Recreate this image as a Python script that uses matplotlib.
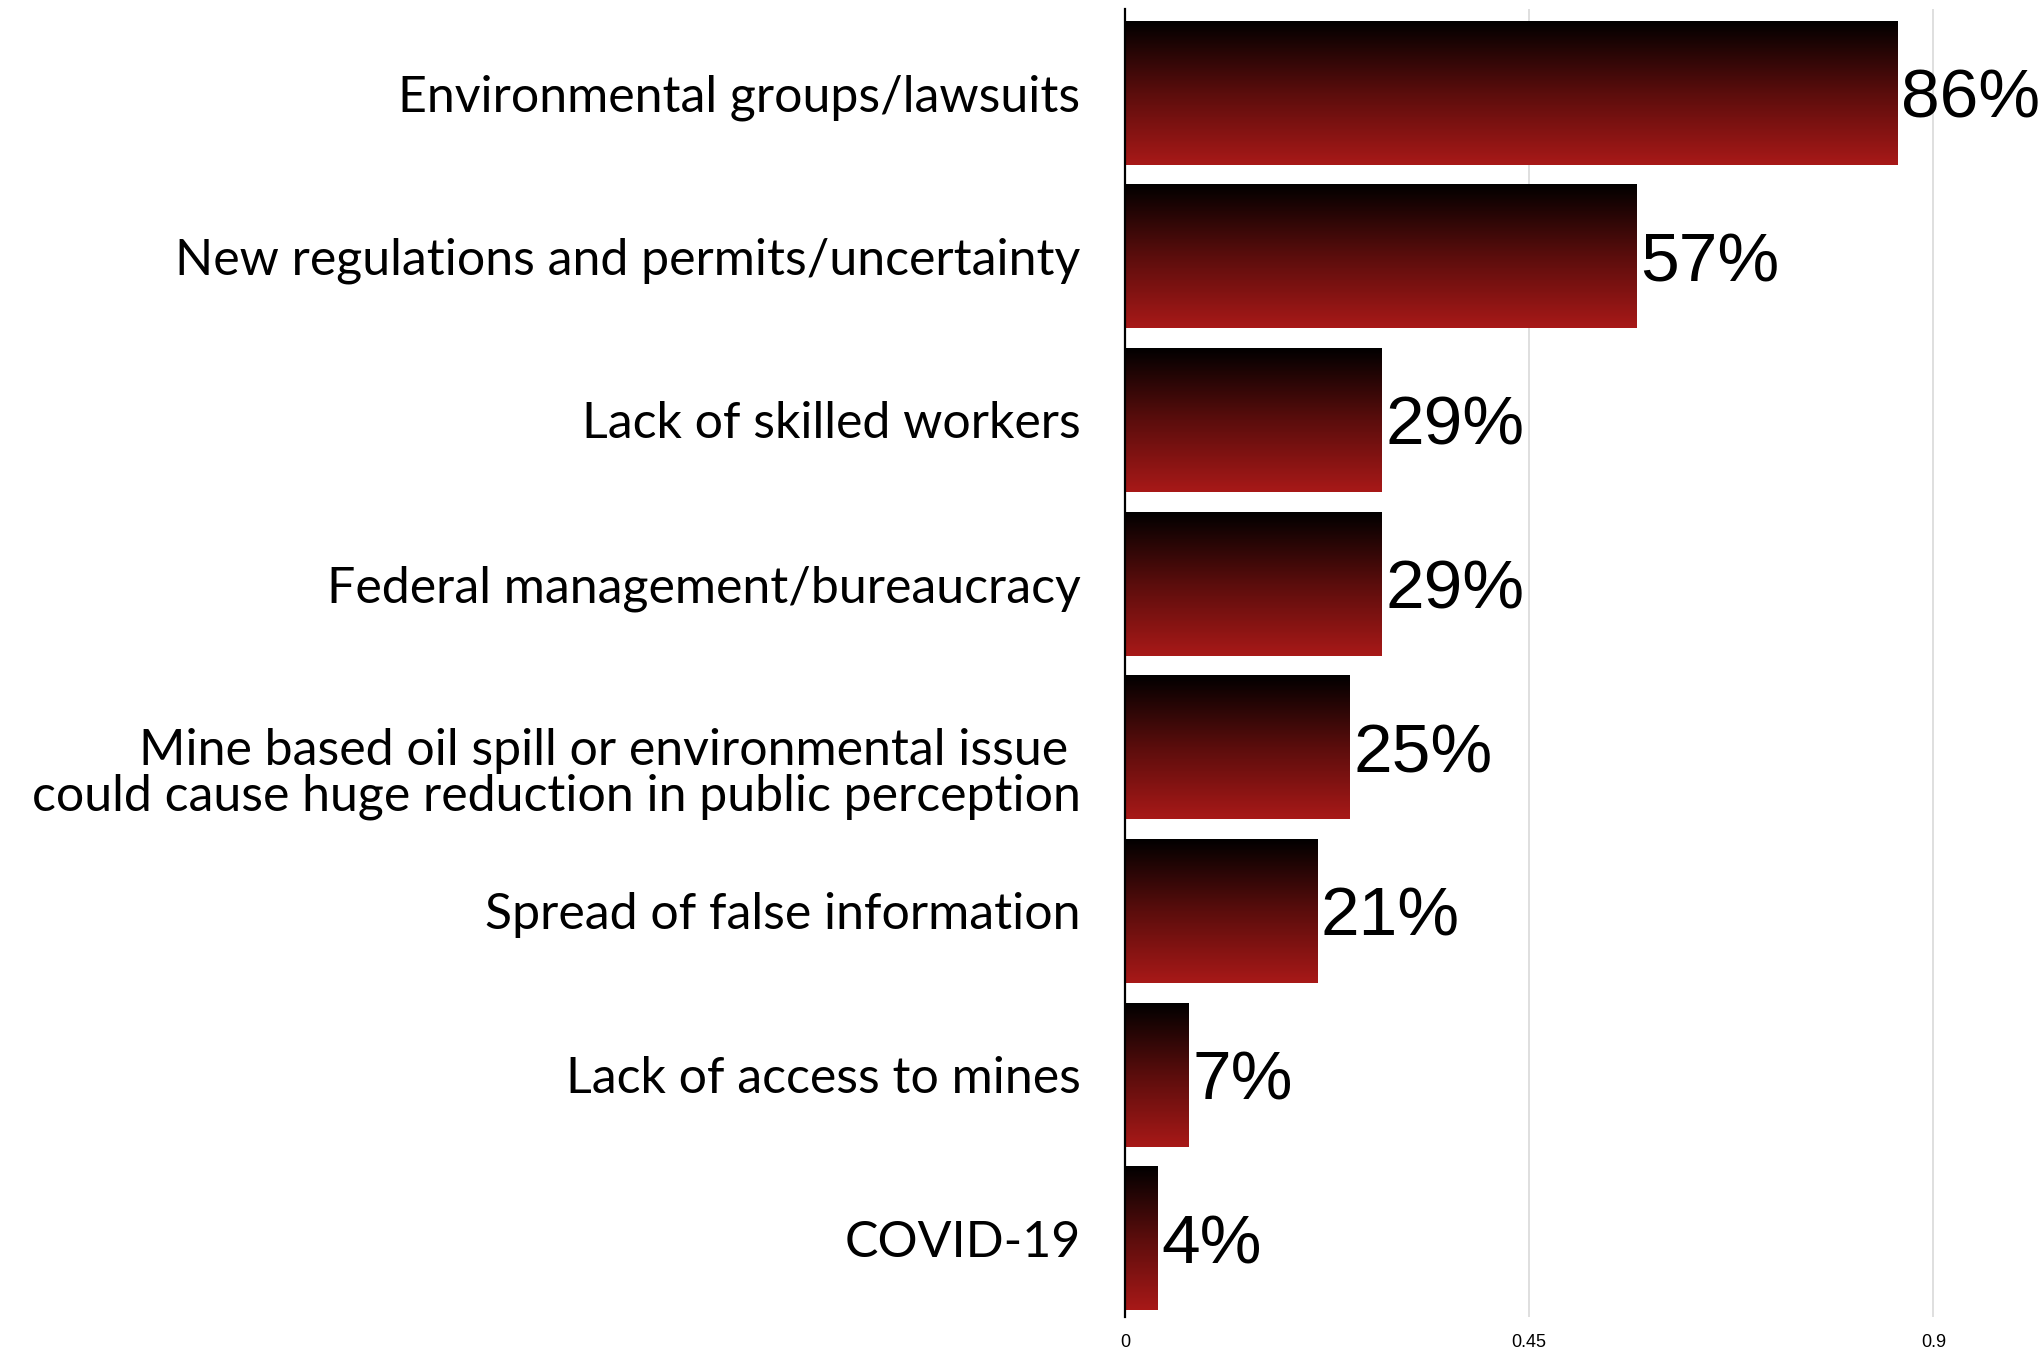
import matplotlib
matplotlib.use("Agg")
import matplotlib.pyplot as plt
import matplotlib.transforms as mtransforms
import numpy as np
from matplotlib.colors import LinearSegmentedColormap

# data, top to bottom
categories = [
    "Environmental groups/lawsuits",
    "New regulations and permits/uncertainty",
    "Lack of skilled workers",
    "Federal management/bureaucracy",
    "Mine based oil spill or environmental issue \ncould cause huge reduction in public perception",
    "Spread of false information",
    "Lack of access to mines",
    "COVID-19",
]
values = [0.86, 0.57, 0.286, 0.286, 0.25, 0.214, 0.071, 0.036]
value_labels = ["86%", "57%", "29%", "29%", "25%", "21%", "7%", "4%"]
xticks = [0, 0.45, 0.9]
xtick_labels = ["0", "0.45", "0.9"]

fig = plt.figure(figsize=(20.44, 13.52), dpi=100)
ax = fig.add_axes([0.5504, 0.026, 0.4306, 0.9673])

y = np.arange(len(categories))
bars = ax.barh(y, values, height=0.88, color="none", edgecolor="none", zorder=2)

# vertical gradient, black at the top to red at the bottom
cmap = LinearSegmentedColormap.from_list("blk_red", ["#000000", "#5a0d0c", "#a81918"])
grad = np.linspace(0, 1, 256).reshape(-1, 1)
for b in bars:
    x0, y0 = b.get_x(), b.get_y()
    w, h = b.get_width(), b.get_height()
    im = ax.imshow(grad, cmap=cmap, aspect="auto", extent=(x0, x0 + w, y0 + h, y0),
                   origin="upper", zorder=2, interpolation="bicubic")
    im.set_clip_path(b)

for yi, v, lab in zip(y, values, value_labels):
    ax.text(v + 0.004, yi, lab, va="center_baseline", ha="left", fontsize=50,
            family="Liberation Sans", color="black")

ax.set_xlim(0, 0.98)
ax.set_ylim(len(categories) - 0.52, -0.51)

ax.set_yticks(y)
ax.set_yticklabels(categories, fontsize=36, family="Lato", linespacing=1.0)
ax.tick_params(axis="y", length=0, pad=32)
# the two-line label sits with its first line on the bar centre
two_line = ax.get_yticklabels()[4]
two_line.set_transform(two_line.get_transform() +
                       mtransforms.ScaledTranslation(0, -16 / 72, fig.dpi_scale_trans))

ax.set_xticks(xticks)
ax.set_xticklabels(xtick_labels, fontsize=13, family=["Liberation Sans Narrow", "Liberation Sans"])
ax.tick_params(axis="x", length=0, pad=12)

ax.grid(axis="x", color="#d9d9d9", linewidth=1.2, zorder=0)
ax.set_axisbelow(True)
for s in ["top", "right", "bottom"]:
    ax.spines[s].set_visible(False)
ax.spines["left"].set_linewidth(1.6)
ax.spines["left"].set_zorder(3)

fig.savefig("out.png", dpi=100)
